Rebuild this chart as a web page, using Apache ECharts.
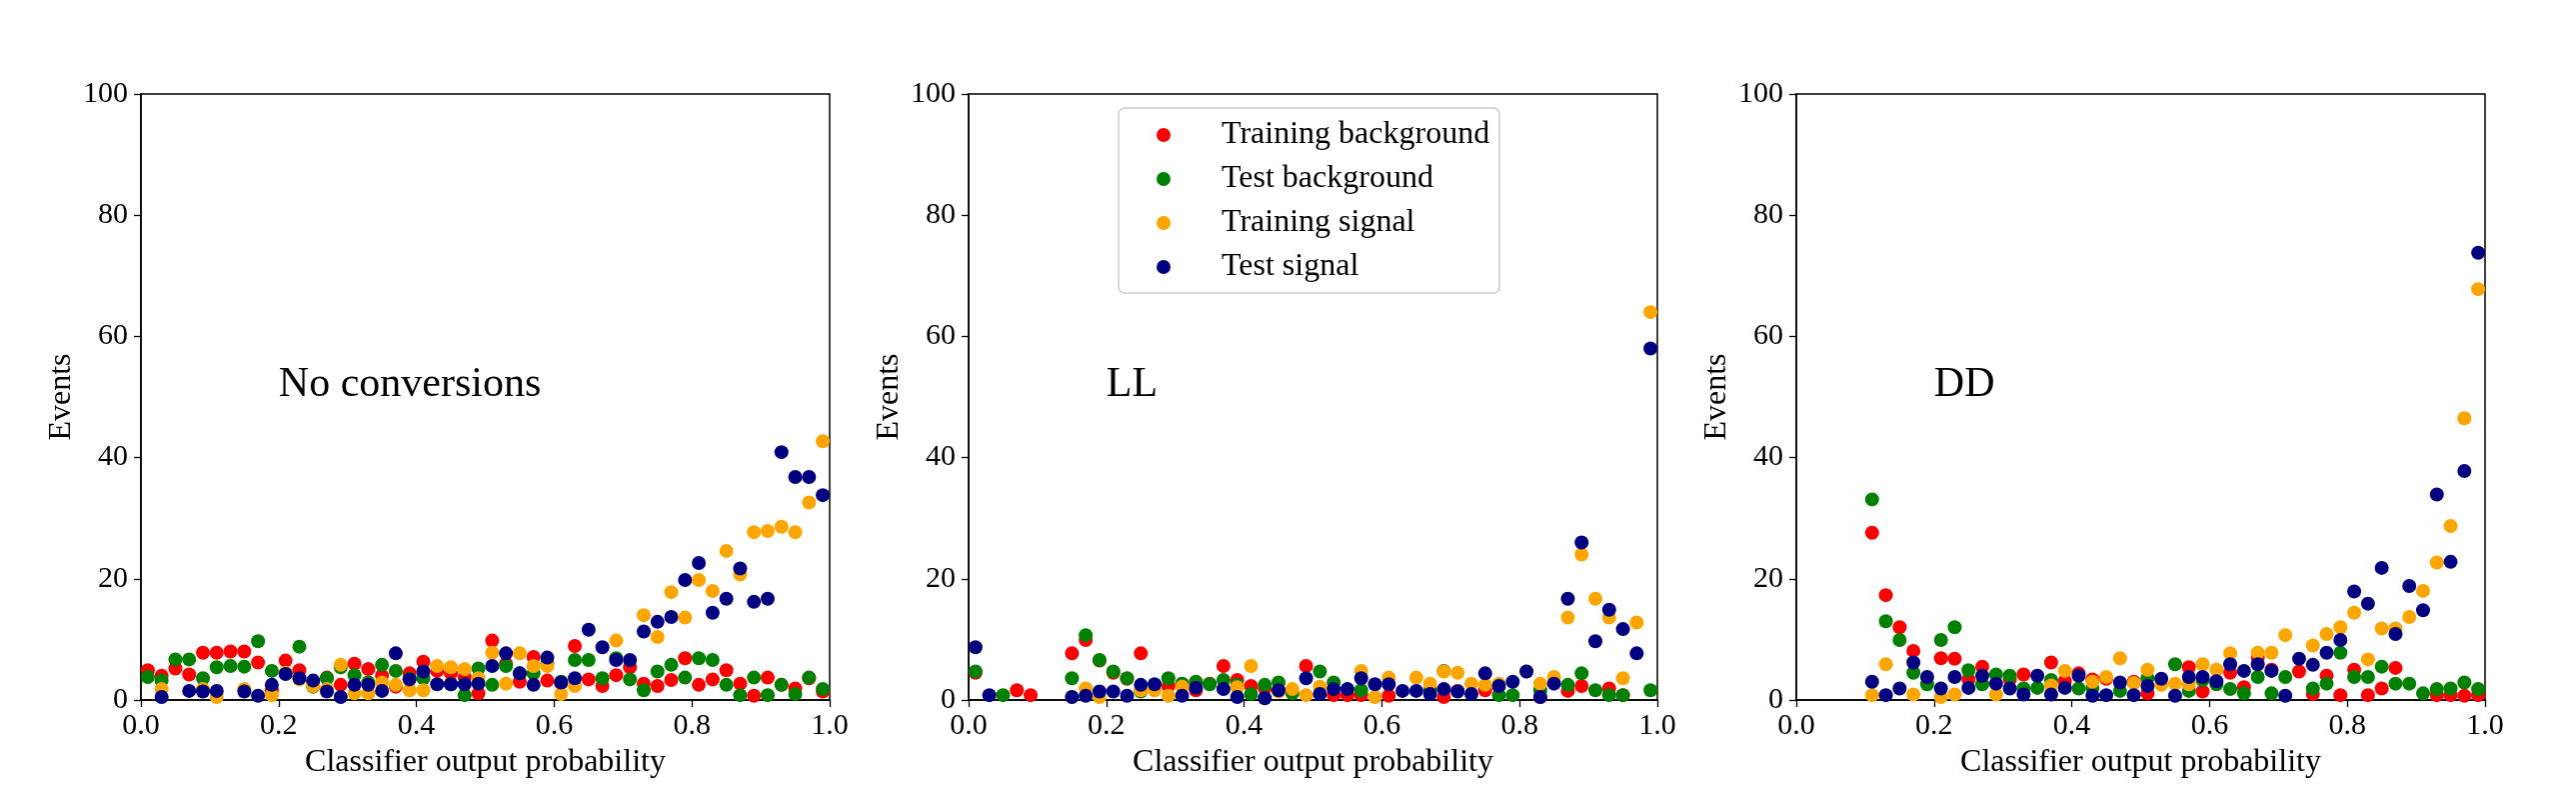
<!DOCTYPE html>
<html>
<head>
<meta charset="utf-8">
<script src="https://cdn.jsdelivr.net/npm/echarts@6/dist/echarts.min.js"></script>
<style>
html,body{margin:0;padding:0;background:#fff;}
#chart{width:2577px;height:788px;}
</style>
</head>
<body>
<div id="chart"></div>
<script>
// Bin centres (classifier output probability)
const binCenters = [0.01,0.03,0.05,0.07,0.09,0.11,0.13,0.15,0.17,0.19,
  0.21,0.23,0.25,0.27,0.29,0.31,0.33,0.35,0.37,0.39,
  0.41,0.43,0.45,0.47,0.49,0.51,0.53,0.55,0.57,0.59,
  0.61,0.63,0.65,0.67,0.69,0.71,0.73,0.75,0.77,0.79,
  0.81,0.83,0.85,0.87,0.89,0.91,0.93,0.95,0.97,0.99];

const seriesNames = ['Training background','Test background','Training signal','Test signal'];
const panelLabels = ['No conversions','LL','DD'];
const xTicks = [0,0.2,0.4,0.6,0.8,1.0];
const yTicks = [0,20,40,60,80,100];

// Panel 1: No conversions
const ncTrainBkg = [4.9,4.0,5.2,4.2,7.8,7.8,8.0,8.0,6.2,1.6, 6.5,4.9,3.0,3.7,2.5,6.0,5.1,4.0,2.2,4.4,
  6.3,4.8,4.4,3.8,1.1, 9.8,6.0,3.0,7.1,3.2, 2.8,8.9,3.4,2.3,4.1, 5.4,2.7,2.3,3.3,6.9,
  2.5,3.4,4.9,2.7,0.7, 3.7,2.5,1.9,3.6,1.4];
const ncTestBkg = [3.8,3.2,6.7,6.7,3.6,5.4,5.6,5.5,9.7,4.8, 4.4,8.8,2.2,3.6,5.4,4.1,2.9,5.8,4.8,3.5,
  3.6,null,2.6,0.8,5.2, 2.5,5.6,4.4,4.4,6.0, 3.0,6.6,6.6,3.6,6.9, 3.4,1.6,4.7,5.8,3.7,
  6.9,6.6,2.5,0.8,3.7, 0.8,2.5,1.0,3.7,1.8];
const ncTrainSig = [null,1.8,null,null,1.8,0.5,null,1.8,null,0.8, 4.5,3.4,2.3,1.8,5.8,1.1,1.1,2.9,2.5,1.6,
  1.6,5.6,5.4,5.1,3.6, 7.8,2.7,7.7,5.6,5.6, 1.0,2.3,null,null,9.8, null,14.0,10.4,17.8,13.6,
  19.8,18.0,24.6,20.7,27.7, 27.9,28.6,27.7,32.6,42.7];
const ncTestSig = [null,0.5,null,1.5,1.4,1.5,null,1.4,0.7,2.5, 4.3,3.6,3.2,1.4,0.5,2.5,2.5,1.5,7.7,3.4,
  4.7,2.6,2.6,2.6,2.7, 5.6,7.7,4.4,2.5,7.0, 2.9,3.6,11.6,8.7,6.6, 6.6,11.3,12.9,13.7,19.8,
  22.6,14.4,16.7,21.7,16.2, 16.7,40.9,36.8,36.8,33.8];

// Panel 2: LL
const llTrainBkg = [4.5,null,null,1.6,0.8,null,null,7.7,9.9,6.5, 4.5,3.5,7.7,null,2.3,2.6,1.6,2.7,5.6,3.3,
  2.3,1.9,null,null,5.6, null,0.8,0.8,0.8,null, 0.7,null,null,null,0.5, 1.5,null,1.6,null,null,
  null,0.5,null,1.5,2.3, null,1.9,0.8,null,null];
const llTestBkg = [4.7,null,0.8,null,null,null,null,3.6,10.7,6.6, 4.7,3.6,1.4,null,3.6,2.7,3.0,2.6,3.3,2.5,
  1.0,2.5,2.9,1.1,null, 4.7,2.9,null,1.6,null, null,null,null,1.6,4.8, null,null,null,0.8,0.8,
  null,1.6,null,2.5,4.4, 1.6,0.8,0.8,null,1.6];
const llTrainSig = [null,null,null,null,null,null,null,0.5,1.9,0.5, null,null,1.6,1.6,0.7,2.2,null,null,null,2.1,
  5.6,null,1.4,1.8,0.8, 2.2,null,null,4.8,0.5, 3.7,null,3.7,2.7,4.7, 4.5,2.7,2.5,2.7,null,
  4.7,2.7,3.8,13.6,24.0, 16.7,13.6,3.6,12.8,64.0];
const llTestSig = [8.7,0.8,null,null,null,null,null,0.5,0.7,1.4, 1.4,0.7,2.5,2.6,null,0.7,2.0,null,1.8,0.5,
  null,0.3,1.6,null,3.6, 1.0,1.8,1.8,3.6,2.6, 2.6,1.5,1.5,1.0,1.8, 1.4,1.0,4.4,2.3,3.0,
  4.7,0.5,2.7,16.7,26.0, 9.7,14.9,11.7,7.7,58.0];

// Panel 3: DD
const ddTrainBkg = [null,null,null,null,null,27.6,17.3,12.0,8.1,null, 6.9,6.8,3.4,5.5,null,3.4,4.2,null,6.2,3.1,
  4.4,3.4,3.5,null,3.0, 1.1,null,null,5.4,1.4, null,4.5,2.1,7.0,5.0, null,4.7,1.0,4.0,0.8,
  5.0,0.8,1.9,5.3,null, null,0.8,0.8,0.7,0.8];
const ddTestBkg = [null,null,null,null,null,33.1,13.0,9.9,4.5,2.6, 9.9,12.0,4.9,2.6,4.2,4.0,1.9,2.0,3.3,null,
  1.9,2.0,null,1.5,null, 3.6,null,5.9,1.5,3.3, 2.6,1.8,1.1,3.8,1.1, 3.8,null,1.9,2.7,7.8,
  3.8,3.8,5.5,2.7,2.7, 1.1,1.8,1.9,2.9,1.8];
const ddTrainSig = [null,null,null,null,null,0.8,5.9,null,0.9,null, 0.5,0.9,null,null,0.9,null,null,null,2.4,4.8,
  null,3.0,3.8,6.9,2.8, 5.0,2.5,2.7,2.6,5.9, 5.0,7.7,null,7.8,7.8, 10.7,null,9.0,10.9,12.0,
  14.4,6.7,11.8,11.8,13.7, 18.0,22.7,28.7,46.5,67.8];
const ddTestSig = [null,null,null,null,null,3.0,0.8,1.9,6.2,3.8, 1.9,3.8,2.0,4.0,2.7,1.9,0.9,4.0,0.9,2.0,
  4.0,0.7,0.8,2.9,0.8, 2.3,3.5,0.7,3.8,3.8, 3.1,5.9,4.8,5.9,4.8, 0.7,6.8,5.8,7.8,9.9,
  17.9,15.9,21.8,10.9,18.8, 14.8,33.9,22.8,37.8,73.8];

const colors = ['#ff0000','#008000','#ffa500','#000080'];
const panels = [
  [ncTrainBkg, ncTestBkg, ncTrainSig, ncTestSig],
  [llTrainBkg, llTestBkg, llTrainSig, llTestSig],
  [ddTrainBkg, ddTestBkg, ddTrainSig, ddTestSig]
];

const FONT = '"Liberation Serif", "DejaVu Serif", serif';
const gridLefts = [141, 969, 1797];
const GRID_W = 689, GRID_TOP = 94, GRID_H = 606;

const grids = [], xAxes = [], yAxes = [], series = [];
panels.forEach((p, k) => {
  grids.push({left: gridLefts[k], top: GRID_TOP, width: GRID_W, height: GRID_H,
    show: true, borderColor: '#000', borderWidth: 1.5, backgroundColor: 'transparent'});
  xAxes.push({type: 'value', gridIndex: k, min: 0, max: 1, interval: 0.2,
    name: 'Classifier output probability', nameLocation: 'middle', nameGap: 47,
    nameTextStyle: {fontFamily: FONT, fontSize: 32, color: '#000'},
    axisLine: {show: true, onZero: false, lineStyle: {color: '#000', width: 1.5}},
    axisTick: {show: true, length: 7, lineStyle: {color: '#000', width: 1.3}},
    axisLabel: {fontFamily: FONT, fontSize: 30, color: '#000', margin: 11,
      formatter: v => v.toFixed(1)},
    splitLine: {show: false}});
  yAxes.push({type: 'value', gridIndex: k, min: 0, max: 100, interval: 20,
    name: 'Events', nameLocation: 'middle', nameGap: 63, nameRotate: 90,
    nameTextStyle: {fontFamily: FONT, fontSize: 32, color: '#000'},
    axisLine: {show: true, lineStyle: {color: '#000', width: 1.5}},
    axisTick: {show: true, length: 7, lineStyle: {color: '#000', width: 1.3}},
    axisLabel: {fontFamily: FONT, fontSize: 30, color: '#000', margin: 13},
    splitLine: {show: false}});
  p.forEach((vals, s) => {
    const data = [];
    vals.forEach((v, i) => { if (v !== null) data.push([binCenters[i], v]); });
    series.push({type: 'scatter', name: seriesNames[s], xAxisIndex: k, yAxisIndex: k,
      data: data, symbol: 'circle', symbolSize: 14, z: 2 + s,
      itemStyle: {color: colors[s], opacity: 1}, emphasis: {disabled: true}, animation: false});
  });
});

const chart = echarts.init(document.getElementById('chart'), null, {renderer: 'canvas'});
chart.setOption({
  backgroundColor: '#fff',
  animation: false,
  grid: grids, xAxis: xAxes, yAxis: yAxes, series: series,
  legend: {
    data: seriesNames, orient: 'vertical', left: 1119, top: 108,
    icon: 'circle', itemWidth: 14, itemHeight: 14, itemGap: 12,
    selectedMode: false,
    padding: [11, 10, 10, 38],
    backgroundColor: '#fff', borderColor: '#cccccc', borderWidth: 1.5, borderRadius: 6,
    textStyle: {fontFamily: FONT, fontSize: 32, color: '#000', lineHeight: 30, padding: [0, 0, 0, 46]}
  }
});

const labelPos = [0.2, 52];
const graphics = panelLabels.map((txt, k) => {
  const pt = chart.convertToPixel({gridIndex: k}, labelPos);
  return {type: 'text', x: pt[0], y: pt[1], z: 10,
    style: {text: txt, fontFamily: FONT, fontSize: 42, fill: '#000',
      textAlign: 'left', textVerticalAlign: 'middle'}};
});
chart.setOption({graphic: graphics});
</script>
</body>
</html>
